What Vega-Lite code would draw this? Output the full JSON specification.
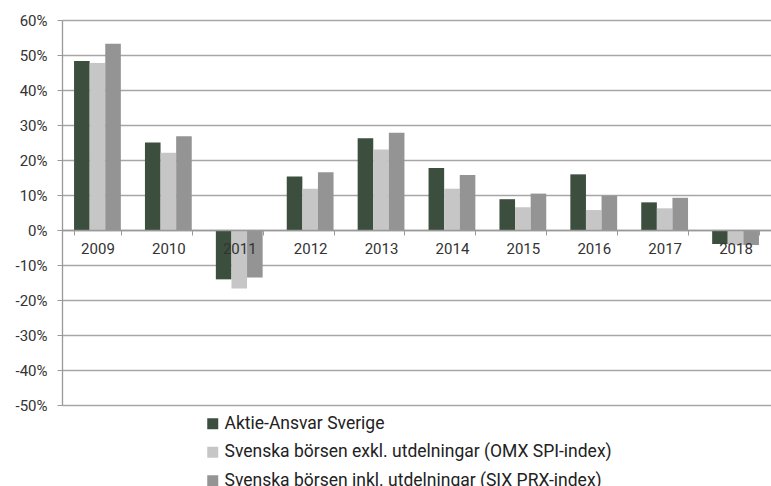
{
  "$schema": "https://vega.github.io/schema/vega-lite/v6.json",
  "autosize": {"type": "none"},
  "width": 709,
  "height": 385,
  "padding": {"left": 62, "top": 20, "right": 0, "bottom": 81},
  "background": "white",
  "config": {
    "font": "Roboto",
    "view": {"stroke": null},
    "axis": {"labelFont": "Roboto", "labelFontSize": 15, "labelColor": "#333333"}
  },
  "data": {
    "values": [
      {"year": "2009", "series": "Aktie-Ansvar Sverige", "value": 0.483},
      {"year": "2009", "series": "Svenska börsen exkl. utdelningar (OMX SPI-index)", "value": 0.477},
      {"year": "2009", "series": "Svenska börsen inkl. utdelningar (SIX PRX-index)", "value": 0.532},
      {"year": "2010", "series": "Aktie-Ansvar Sverige", "value": 0.250},
      {"year": "2010", "series": "Svenska börsen exkl. utdelningar (OMX SPI-index)", "value": 0.221},
      {"year": "2010", "series": "Svenska börsen inkl. utdelningar (SIX PRX-index)", "value": 0.268},
      {"year": "2011", "series": "Aktie-Ansvar Sverige", "value": -0.141},
      {"year": "2011", "series": "Svenska börsen exkl. utdelningar (OMX SPI-index)", "value": -0.167},
      {"year": "2011", "series": "Svenska börsen inkl. utdelningar (SIX PRX-index)", "value": -0.136},
      {"year": "2012", "series": "Aktie-Ansvar Sverige", "value": 0.153},
      {"year": "2012", "series": "Svenska börsen exkl. utdelningar (OMX SPI-index)", "value": 0.118},
      {"year": "2012", "series": "Svenska börsen inkl. utdelningar (SIX PRX-index)", "value": 0.165},
      {"year": "2013", "series": "Aktie-Ansvar Sverige", "value": 0.262},
      {"year": "2013", "series": "Svenska börsen exkl. utdelningar (OMX SPI-index)", "value": 0.230},
      {"year": "2013", "series": "Svenska börsen inkl. utdelningar (SIX PRX-index)", "value": 0.278},
      {"year": "2014", "series": "Aktie-Ansvar Sverige", "value": 0.177},
      {"year": "2014", "series": "Svenska börsen exkl. utdelningar (OMX SPI-index)", "value": 0.118},
      {"year": "2014", "series": "Svenska börsen inkl. utdelningar (SIX PRX-index)", "value": 0.157},
      {"year": "2015", "series": "Aktie-Ansvar Sverige", "value": 0.088},
      {"year": "2015", "series": "Svenska börsen exkl. utdelningar (OMX SPI-index)", "value": 0.065},
      {"year": "2015", "series": "Svenska börsen inkl. utdelningar (SIX PRX-index)", "value": 0.104},
      {"year": "2016", "series": "Aktie-Ansvar Sverige", "value": 0.159},
      {"year": "2016", "series": "Svenska börsen exkl. utdelningar (OMX SPI-index)", "value": 0.057},
      {"year": "2016", "series": "Svenska börsen inkl. utdelningar (SIX PRX-index)", "value": 0.098},
      {"year": "2017", "series": "Aktie-Ansvar Sverige", "value": 0.079},
      {"year": "2017", "series": "Svenska börsen exkl. utdelningar (OMX SPI-index)", "value": 0.062},
      {"year": "2017", "series": "Svenska börsen inkl. utdelningar (SIX PRX-index)", "value": 0.092},
      {"year": "2018", "series": "Aktie-Ansvar Sverige", "value": -0.040},
      {"year": "2018", "series": "Svenska börsen exkl. utdelningar (OMX SPI-index)", "value": -0.043},
      {"year": "2018", "series": "Svenska börsen inkl. utdelningar (SIX PRX-index)", "value": -0.043}
    ]
  },
  "mark": {"type": "bar"},
  "encoding": {
    "x": {
      "field": "year",
      "type": "nominal",
      "scale": {"paddingInner": 0.34, "paddingOuter": 0.17},
      "axis": {
        "title": null,
        "labelAngle": 0,
        "offset": -175,
        "tickBand": "extent",
        "tickSize": 5,
        "tickColor": "#999999",
        "domainColor": "#999999",
        "domainWidth": 1.3,
        "labelPadding": 6,
        "zindex": 1
      }
    },
    "xOffset": {"field": "series", "type": "nominal", "sort": null},
    "y": {
      "field": "value",
      "type": "quantitative",
      "scale": {"domain": [-0.5, 0.6], "nice": false},
      "axis": {
        "title": null,
        "format": ".0%",
        "labelExpr": "replace(datum.label, '\u2212', '-')",
        "values": [-0.5, -0.4, -0.3, -0.2, -0.1, 0, 0.1, 0.2, 0.3, 0.4, 0.5, 0.6],
        "tickSize": 5,
        "tickColor": "#999999",
        "domainColor": "#999999",
        "domainWidth": 1.3,
        "gridColor": "#a6a6a6",
        "gridWidth": 1.3,
        "labelPadding": 10
      }
    },
    "color": {
      "field": "series",
      "type": "nominal",
      "sort": null,
      "scale": {
        "domain": [
          "Aktie-Ansvar Sverige",
          "Svenska börsen exkl. utdelningar (OMX SPI-index)",
          "Svenska börsen inkl. utdelningar (SIX PRX-index)"
        ],
        "range": ["#3c4f3e", "#c6c6c6", "#949494"]
      },
      "legend": {
        "title": null,
        "orient": "none",
        "legendX": 142,
        "legendY": 395,
        "direction": "vertical",
        "padding": 0,
        "symbolType": "square",
        "symbolSize": 121,
        "symbolStrokeWidth": 0,
        "labelFont": "Roboto",
        "labelFontSize": 17.5,
        "labelColor": "#222222",
        "labelOffset": 3,
        "rowPadding": 9.5,
        "labelLimit": 600
      }
    }
  }
}
